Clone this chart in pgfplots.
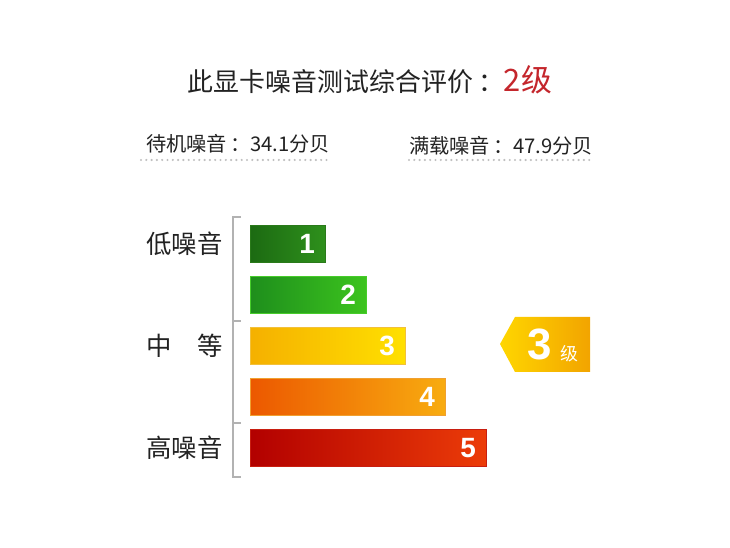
\documentclass[border=0pt]{standalone}
\usepackage{pgfplots}
\pgfplotsset{compat=1.18}
\usepackage{fontspec}
\setmainfont{Noto Sans CJK SC}
\newfontfamily\numfont{Liberation Sans}
\definecolor{titlered}{HTML}{C4262C}
\definecolor{txtgray}{HTML}{222222}
\definecolor{g1l}{HTML}{1C6A12}\definecolor{g1r}{HTML}{2E901C}\definecolor{g1b}{HTML}{2A7A1A}
\definecolor{g2l}{HTML}{1E8E1C}\definecolor{g2r}{HTML}{3CC41E}\definecolor{g2b}{HTML}{46CC2A}
\definecolor{y3l}{HTML}{F5B000}\definecolor{y3r}{HTML}{FFE000}\definecolor{y3b}{HTML}{F2C03A}
\definecolor{o4l}{HTML}{EC5800}\definecolor{o4r}{HTML}{F8AC10}\definecolor{o4b}{HTML}{F0A030}
\definecolor{r5l}{HTML}{B20000}\definecolor{r5r}{HTML}{EC3C08}\definecolor{r5b}{HTML}{C81E10}
\definecolor{bkl}{HTML}{FFD600}\definecolor{bkr}{HTML}{F2A400}
\begin{document}
\begin{tikzpicture}[x=1bp,y=1bp]
\useasboundingbox (0,0) rectangle (730,548);
% title
\node[anchor=center, text=txtgray, inner sep=0] at (370,468)
  {\fontsize{26}{30}\selectfont 此显卡噪音测试综合评价\hspace{0.2em}：{\fontsize{31}{34}\selectfont\color{titlered}2级}};
% subtitles
\node[anchor=west, text=txtgray, inner sep=0] at (146,404)
  {\fontsize{20.3}{24}\selectfont 待机噪音\hspace{0.15em}：34.1分贝};
\node[anchor=west, text=txtgray, inner sep=0] at (409,402)
  {\fontsize{20.3}{24}\selectfont 满载噪音\hspace{0.15em}：47.9分贝};
\draw[gray!50, line width=2.4bp, line cap=round, dash pattern=on 0pt off 5.3bp] (141,388) -- (330,388);
\draw[gray!50, line width=2.4bp, line cap=round, dash pattern=on 0pt off 5.3bp] (409,388) -- (592,388);
\begin{axis}[
  at={(250bp,69.4bp)}, anchor=south west,
  scale only axis, width=340bp, height=265.2bp,
  xmin=0, xmax=340, ymin=0.4, ymax=5.6, y dir=reverse,
  xbar, bar width=0.725, bar shift=0pt,
  clip=false,
  axis line style={draw=none},
  xtick=\empty,
  ytick={1,3,5},
  yticklabels={低噪音,中\hspace{1em}等,高噪音},
  major tick length=0pt,
  yticklabel style={font=\fontsize{25.5}{30}\selectfont, text=txtgray, anchor=east, inner sep=0pt, xshift=-27bp},
]
\addplot[draw=g1b, line width=0.8bp, left color=g1l, right color=g1r] coordinates {(75,1)};
\addplot[draw=g2b, line width=0.8bp, left color=g2l, right color=g2r] coordinates {(116,2)};
\addplot[draw=y3b, line width=0.8bp, left color=y3l, right color=y3r] coordinates {(155,3)};
\addplot[draw=o4b, line width=0.8bp, left color=o4l, right color=o4r] coordinates {(195,4)};
\addplot[draw=r5b, line width=0.8bp, left color=r5l, right color=r5r] coordinates {(236,5)};
% bracket
\draw[gray!60, line width=1.4bp] (axis cs:-9,0.47) -- (axis cs:-17,0.47) -- (axis cs:-17,5.57) -- (axis cs:-9,5.57);
\draw[gray!60, line width=1.4bp] (axis cs:-17,2.51) -- (axis cs:-9,2.51);
\draw[gray!60, line width=1.4bp] (axis cs:-17,4.51) -- (axis cs:-9,4.51);
% numbers
\foreach \v/\k in {75/1,116/2,155/3,195/4,236/5}{
  \edef\tmp{\noexpand\node[anchor=east, text=white, inner sep=0pt, font=\noexpand\numfont\noexpand\bfseries\noexpand\fontsize{28}{32}\noexpand\selectfont] at (axis cs:\v-10,\k) {\k};}
  \tmp
}
\end{axis}
% badge
\shade[left color=bkl, right color=bkr] (500,204) -- (515,231) -- (590,231) -- (590,176) -- (515,176) -- cycle;
\node[text=white, inner sep=0, font=\numfont\bfseries\fontsize{44}{46}\selectfont] at (540,204) {3};
\node[text=white, inner sep=0, font=\fontsize{18}{20}\selectfont] at (569,194) {级};
\end{tikzpicture}
\end{document}
